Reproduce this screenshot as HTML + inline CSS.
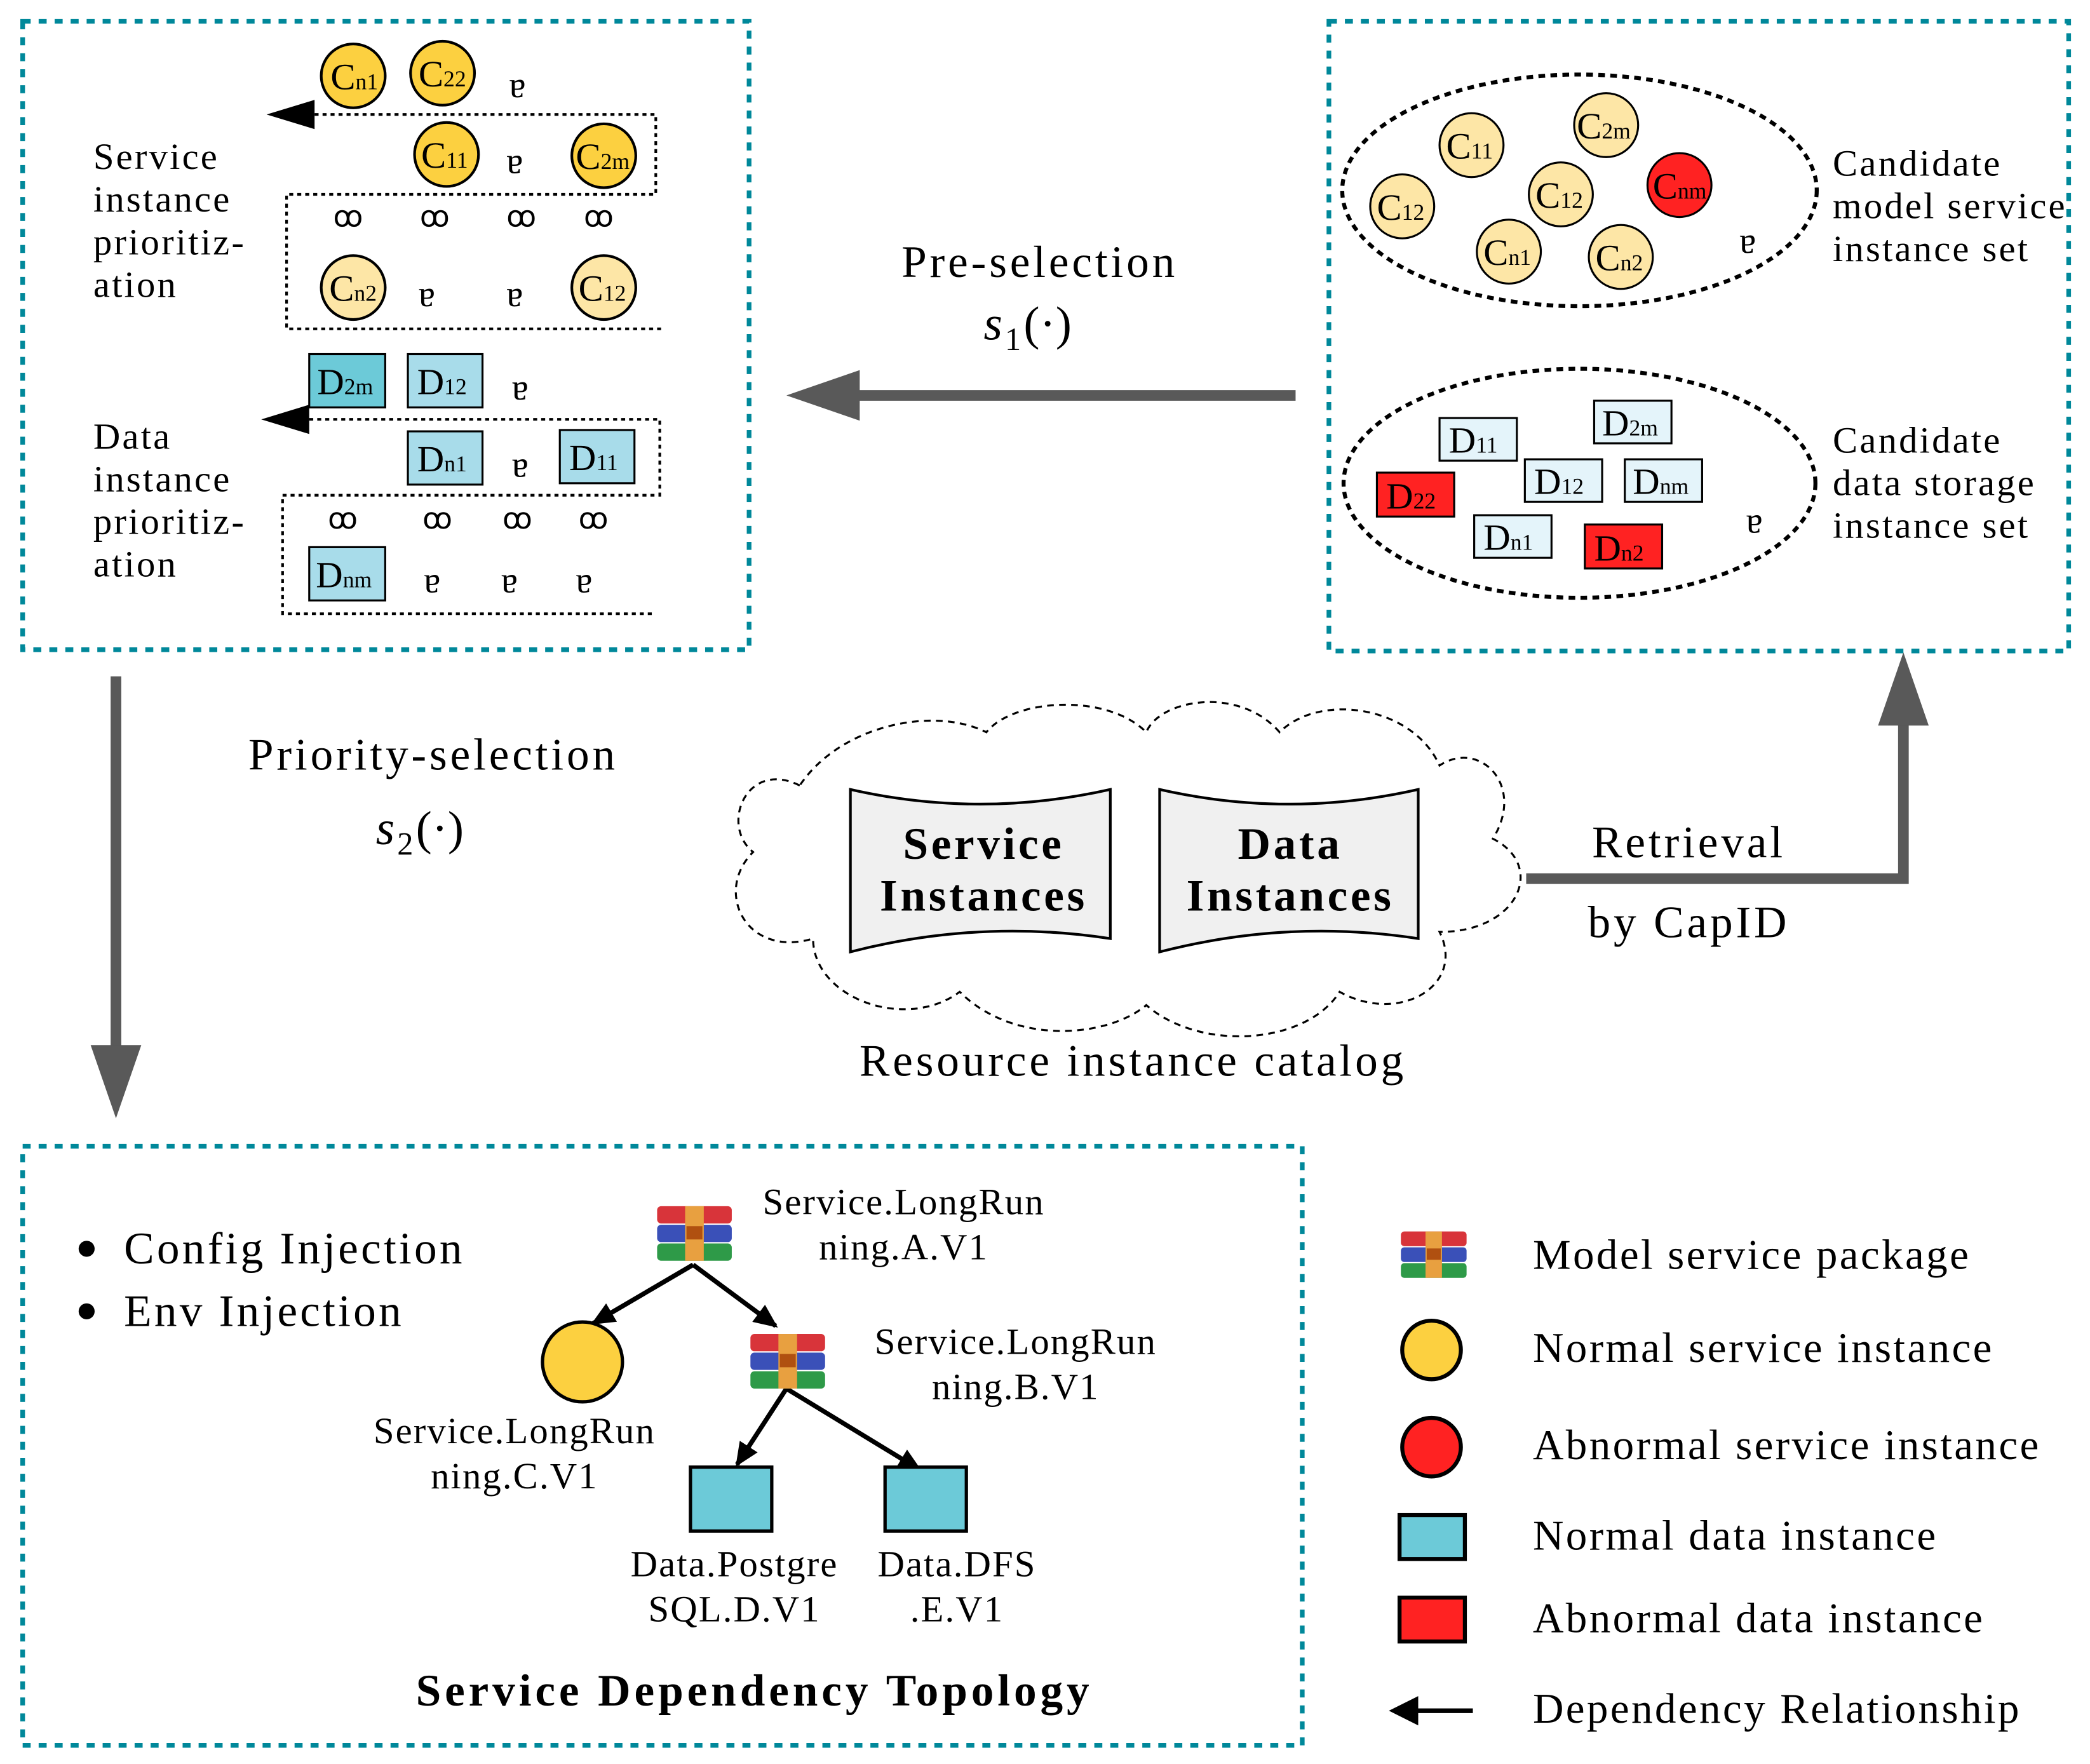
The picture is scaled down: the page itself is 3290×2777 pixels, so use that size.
<!DOCTYPE html>
<html><head><meta charset="utf-8"><style>html,body{margin:0;padding:0;background:#fff}svg{display:block}</style></head>
<body>
<svg width="3290" height="2777" viewBox="0 0 1568 1325" preserveAspectRatio="none" xmlns="http://www.w3.org/2000/svg" font-family="Liberation Serif, serif">
<defs>
<marker id="ah" markerWidth="18" markerHeight="16" refX="16" refY="8" orient="auto" markerUnits="userSpaceOnUse"><path d="M0,0 L18,8 L0,16z" fill="#000"/></marker>
<g id="pkg">
<rect x="0" y="0" width="56" height="13" rx="3" fill="#d8343a"/>
<rect x="0" y="14" width="56" height="13" rx="3" fill="#3a50b8"/>
<rect x="0" y="28" width="56" height="13" rx="3" fill="#2e9a48"/>
<rect x="21" y="0" width="14" height="41" fill="#e8a040"/>
<rect x="22" y="15" width="12" height="10" fill="#b05010"/>
</g>
</defs>
<!-- boxes -->
<g fill="none" stroke="#00889a" stroke-width="3.5" stroke-dasharray="6,6">
<rect x="17" y="16" width="545" height="472"/>
<rect x="997" y="16" width="555" height="473"/>
<rect x="17" y="861" width="960" height="450"/>
</g>
<!-- top-left content -->
<g font-size="28" letter-spacing="1.5">
<text x="70" y="127">Service</text><text x="70" y="159">instance</text><text x="70" y="191">prioritiz-</text><text x="70" y="223">ation</text>
<text x="70" y="337">Data</text><text x="70" y="369">instance</text><text x="70" y="401">prioritiz-</text><text x="70" y="433">ation</text>
</g>
<g fill="none" stroke="#000" stroke-width="2" stroke-dasharray="3,3">
<path d="M236,86 H492 V146 H215 V247 H497"/>
<path d="M232,315 H495 V372 H212 V461 H492"/>
</g>
<path d="M200,86 L236,75 L236,97z"/>
<path d="M196,315 L232,304 L232,326z"/>
<g stroke="#000" stroke-width="2" fill="#fcd040">
<circle cx="265" cy="57" r="24"/><circle cx="332" cy="55" r="24"/>
<circle cx="335" cy="116" r="24"/><circle cx="453" cy="117" r="24"/>
<circle cx="265" cy="216" r="24" fill="#fde6a6"/><circle cx="453" cy="216" r="24" fill="#fde6a6"/>
</g>
<g stroke="#000" stroke-width="1.5" fill="#a8dcea">
<rect x="232" y="266" width="57" height="40" fill="#6ccad8"/><rect x="306" y="266" width="56" height="40"/>
<rect x="306" y="324" width="56" height="40"/><rect x="420" y="323" width="56" height="40"/>
<rect x="232" y="411" width="57" height="40"/>
</g>
<g font-size="28">
<text x="248" y="67">C<tspan font-size="17">n1</tspan></text><text x="314" y="65">C<tspan font-size="17">22</tspan></text>
<text x="316" y="126">C<tspan font-size="17">11</tspan></text><text x="432" y="127">C<tspan font-size="17">2m</tspan></text>
<text x="247" y="226">C<tspan font-size="17">n2</tspan></text><text x="434" y="226">C<tspan font-size="17">12</tspan></text>
<text x="238" y="296">D<tspan font-size="17">2m</tspan></text><text x="313" y="296">D<tspan font-size="17">12</tspan></text>
<text x="313" y="354">D<tspan font-size="17">n1</tspan></text><text x="427" y="353">D<tspan font-size="17">11</tspan></text>
<text x="237" y="441">D<tspan font-size="17">nm</tspan></text>
<text x="382" y="73">ɐ</text><text x="380" y="130">ɐ</text><text x="314" y="230">ɐ</text><text x="380" y="230">ɐ</text>
<text x="384" y="300">ɐ</text><text x="384" y="358">ɐ</text><text x="318" y="445">ɐ</text><text x="376" y="445">ɐ</text><text x="432" y="445">ɐ</text>
<text x="1305" y="190">ɐ</text><text x="1310" y="400">ɐ</text>
</g>
<g font-size="22">
<text x="250" y="170">ꝏ</text><text x="315" y="170">ꝏ</text><text x="380" y="170">ꝏ</text><text x="438" y="170">ꝏ</text>
<text x="246" y="397">ꝏ</text><text x="317" y="397">ꝏ</text><text x="377" y="397">ꝏ</text><text x="434" y="397">ꝏ</text>
</g>
<!-- top-right -->
<g fill="none" stroke="#000" stroke-width="3" stroke-dasharray="5,4">
<ellipse cx="1185" cy="143" rx="178" ry="87"/>
<ellipse cx="1185" cy="363" rx="177" ry="86"/>
</g>
<g stroke="#000" stroke-width="1.5" fill="#fde6a6">
<circle cx="1104" cy="109" r="24"/><circle cx="1205" cy="94" r="24"/><circle cx="1052" cy="155" r="24"/>
<circle cx="1171" cy="146" r="24"/><circle cx="1260" cy="139" r="24" fill="#f22"/>
<circle cx="1132" cy="189" r="24"/><circle cx="1216" cy="193" r="24"/>
</g>
<g stroke="#000" stroke-width="1.5" fill="#e4f4fa">
<rect x="1080" y="314" width="58" height="32"/><rect x="1196" y="301" width="58" height="32"/>
<rect x="1144" y="345" width="58" height="32"/><rect x="1219" y="345" width="58" height="32"/>
<rect x="1033" y="355" width="58" height="33" fill="#f22"/><rect x="1106" y="387" width="58" height="32"/>
<rect x="1189" y="394" width="58" height="33" fill="#f22"/>
</g>
<g font-size="28">
<text x="1085" y="119">C<tspan font-size="17">11</tspan></text><text x="1183" y="104">C<tspan font-size="17">2m</tspan></text>
<text x="1033" y="165">C<tspan font-size="17">12</tspan></text><text x="1152" y="156">C<tspan font-size="17">12</tspan></text>
<text x="1240" y="149">C<tspan font-size="17">nm</tspan></text><text x="1113" y="199">C<tspan font-size="17">n1</tspan></text>
<text x="1197" y="203">C<tspan font-size="17">n2</tspan></text>
<text x="1087" y="340">D<tspan font-size="17">11</tspan></text><text x="1202" y="327">D<tspan font-size="17">2m</tspan></text>
<text x="1151" y="371">D<tspan font-size="17">12</tspan></text><text x="1225" y="371">D<tspan font-size="17">nm</tspan></text>
<text x="1040" y="382">D<tspan font-size="17">22</tspan></text><text x="1113" y="413">D<tspan font-size="17">n1</tspan></text>
<text x="1196" y="421">D<tspan font-size="17">n2</tspan></text>
</g>
<g font-size="28" letter-spacing="1.5">
<text x="1375" y="132">Candidate</text><text x="1375" y="164">model service</text><text x="1375" y="196">instance set</text>
<text x="1375" y="340">Candidate</text><text x="1375" y="372">data storage</text><text x="1375" y="404">instance set</text>
</g>
<!-- gray arrows -->
<g stroke="#595959" stroke-width="8" fill="none">
<path d="M972,297 H638"/><path d="M87,508 V792"/><path d="M1145,660 H1428 V540"/>
</g>
<g fill="#595959">
<path d="M590,297 L645,278 L645,316z"/><path d="M87,840 L68,785 L106,785z"/><path d="M1428,490 L1409,545 L1447,545z"/>
</g>
<g font-size="34" text-anchor="middle" letter-spacing="2.3">
<text x="780" y="208">Pre-selection</text>
<text x="325" y="578">Priority-selection</text>
<text x="1267" y="644">Retrieval</text><text x="1267" y="704">by CapID</text>
<text x="850" y="808">Resource instance catalog</text>
</g>
<g font-size="36">
<text x="738" y="255" font-style="italic">s</text><text x="754" y="263" font-size="24">1</text><text x="768" y="255">(·)</text>
<text x="282" y="634" font-style="italic">s</text><text x="298" y="642" font-size="24">2</text><text x="312" y="634">(·)</text>
</g>
<!-- cloud -->
<path d="M600,590 C560,570 540,620 565,640 C535,670 560,720 610,705 C610,750 680,775 720,745 C760,785 830,780 860,755 C900,790 980,785 1005,745 C1050,770 1100,740 1080,700 C1140,700 1160,650 1120,630 C1145,590 1110,555 1080,575 C1060,530 990,520 960,550 C930,515 870,525 860,550 C830,520 760,525 740,550 C700,530 630,545 600,590z" fill="none" stroke="#000" stroke-width="1.5" stroke-dasharray="5,4"/>
<g fill="#f0f0f0" stroke="#000" stroke-width="2">
<path d="M638,593 Q735,615 833,593 V705 Q735,690 638,715z"/>
<path d="M870,593 Q967,615 1064,593 V705 Q967,690 870,715z"/>
</g>
<g font-size="34" font-weight="bold" text-anchor="middle" letter-spacing="2.2">
<text x="738" y="645">Service</text><text x="738" y="684">Instances</text>
<text x="968" y="645">Data</text><text x="968" y="684">Instances</text>
</g>
<!-- bottom -->
<g font-size="34" letter-spacing="2">
<circle cx="65" cy="938" r="6"/><text x="93" y="949">Config Injection</text>
<circle cx="65" cy="985" r="6"/><text x="93" y="996">Env Injection</text>
</g>
<g stroke="#000" stroke-width="3.5" marker-end="url(#ah)">
<path d="M520,950 L445,994"/><path d="M520,950 L582,996"/>
<path d="M590,1043 L553,1100"/><path d="M590,1043 L690,1104"/>
</g>
<use href="#pkg" x="493" y="906"/><use href="#pkg" x="563" y="1002"/>
<circle cx="437" cy="1023" r="30" fill="#fcd040" stroke="#000" stroke-width="2.5"/>
<rect x="518" y="1102" width="61" height="48" fill="#6ccad8" stroke="#000" stroke-width="2.5"/>
<rect x="664" y="1102" width="61" height="48" fill="#6ccad8" stroke="#000" stroke-width="2.5"/>
<g font-size="28" text-anchor="middle" letter-spacing="1">
<text x="678" y="912">Service.LongRun</text><text x="678" y="946">ning.A.V1</text>
<text x="762" y="1017">Service.LongRun</text><text x="762" y="1051">ning.B.V1</text>
<text x="386" y="1084">Service.LongRun</text><text x="386" y="1118">ning.C.V1</text>
<text x="551" y="1184">Data.Postgre</text><text x="551" y="1218">SQL.D.V1</text>
<text x="718" y="1184">Data.DFS</text><text x="718" y="1218">.E.V1</text>
</g>
<text x="566" y="1281" font-size="34" font-weight="bold" text-anchor="middle" letter-spacing="2.8">Service Dependency Topology</text>
<!-- legend -->
<g transform="translate(1051,925) scale(0.88,0.85)"><use href="#pkg"/></g>
<circle cx="1074" cy="1014" r="22" fill="#fcd040" stroke="#000" stroke-width="3"/>
<circle cx="1074" cy="1087" r="22" fill="#f22" stroke="#000" stroke-width="3"/>
<rect x="1050" y="1138" width="49" height="33" fill="#6ccad8" stroke="#000" stroke-width="3"/>
<rect x="1050" y="1200" width="49" height="33" fill="#f22" stroke="#000" stroke-width="3"/>
<path d="M1105,1285 H1060" stroke="#000" stroke-width="3.5"/><path d="M1042,1285 L1064,1274 L1064,1296z"/>
<g font-size="32" letter-spacing="1.6">
<text x="1150" y="953">Model service package</text>
<text x="1150" y="1023">Normal service instance</text>
<text x="1150" y="1096">Abnormal service instance</text>
<text x="1150" y="1164">Normal data instance</text>
<text x="1150" y="1226">Abnormal data instance</text>
<text x="1150" y="1294">Dependency Relationship</text>
</g>
</svg>
</body></html>
